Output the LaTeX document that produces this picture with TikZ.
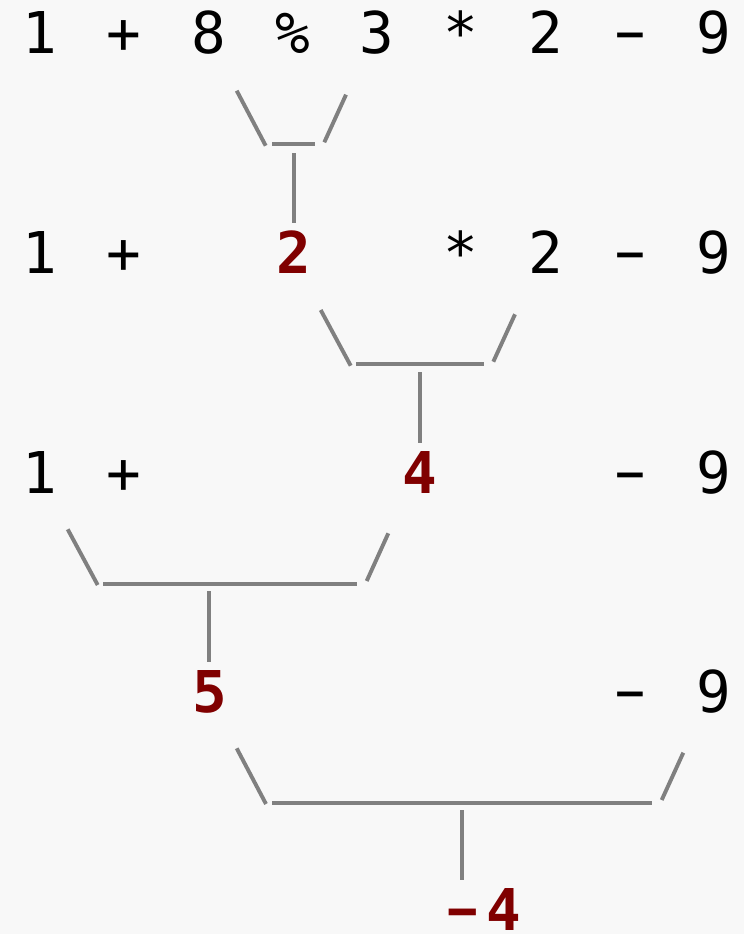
\documentclass[tikz,border=0pt]{standalone}
\usepackage{fontspec}
\newfontfamily\tokfam{DejaVu Sans Mono}
\newfontfamily\resfam{DejaVu Sans Mono Bold}
\definecolor{resred}{HTML}{800000}
\definecolor{brkgray}{HTML}{808080}
\definecolor{bgpaper}{HTML}{F8F8F8}
\newcommand{\tokfont}{\tokfam\fontsize{57.6}{60}\selectfont}
\newcommand{\resfont}{\resfam\fontsize{57.6}{60}\selectfont}
\newcommand{\mminus}{\scalebox{0.86}[1]{−}}
\tikzset{
  tok/.style={anchor=base, inner sep=0pt, font=\tokfont, text=black},
  res/.style={anchor=base, inner sep=0pt, font=\resfont, text=resred},
  brk/.style={draw=brkgray, line width=3.9pt, line cap=butt}
}
\begin{document}
\begin{tikzpicture}[x=1pt,y=-1pt]
\fill[bgpaper] (0,0) rectangle (744,934);
\useasboundingbox (0,0) rectangle (744,934);
% row 1
\node[tok] (a1) at (40,53.3) {1};
\node[tok] (a2) at (124.25,53.3) {+};
\node[tok] (a3) at (208.5,53.3) {8};
\node[tok] (a4) at (292.75,53.3) {\%};
\node[tok] (a5) at (377,53.3) {3};
\node[tok] (a6) at (461.25,53.3) {*};
\node[tok] (a7) at (545.5,53.3) {2};
\node[tok] (a8) at (630.5,53.3) {\mminus};
\node[tok] (a9) at (714,53.3) {9};
% row 2
\node[tok] (b1) at (40,273.3) {1};
\node[tok] (b2) at (124.25,273.3) {+};
\node[res] (b3) at (293.5,273.3) {2};
\node[tok] (b6) at (461.25,273.3) {*};
\node[tok] (b7) at (545.5,273.3) {2};
\node[tok] (b8) at (630.5,273.3) {\mminus};
\node[tok] (b9) at (714,273.3) {9};
% row 3
\node[tok] (c1) at (40,493) {1};
\node[tok] (c2) at (124.25,493) {+};
\node[res] (c4) at (420,493) {4};
\node[tok] (c8) at (630.5,493) {\mminus};
\node[tok] (c9) at (714,493) {9};
% row 4
\node[res] (d3) at (209.5,712) {5};
\node[tok] (d8) at (630.5,712) {\mminus};
\node[tok] (d9) at (714,712) {9};
% row 5
\node[res] (e1) at (462.5,930.5) {\scalebox{0.88}[1]{−}};
\node[res] (e2) at (504.3,930.5) {4};
% bracket 1
\coordinate (p1a) at (236.7,90.7);  \coordinate (p1b) at (265.7,145.7);
\coordinate (q1a) at (272.3,144.3); \coordinate (q1b) at (315,144.3);
\coordinate (r1a) at (346,94.7);    \coordinate (r1b) at (324.3,142.3);
\coordinate (s1a) at (294.3,153.3); \coordinate (s1b) at (294.3,223.3);
\draw[brk] (p1a) -- (p1b);
\draw[brk] (q1a) -- (q1b);
\draw[brk] (r1a) -- (r1b);
\draw[brk] (s1a) -- (s1b);
% bracket 2
\coordinate (p2a) at (320.7,310);   \coordinate (p2b) at (350.7,365.7);
\coordinate (q2a) at (356,364.3);   \coordinate (q2b) at (484,364.3);
\coordinate (r2a) at (515,314.3);   \coordinate (r2b) at (493.3,361.7);
\coordinate (s2a) at (420,372.3);   \coordinate (s2b) at (420,442.7);
\draw[brk] (p2a) -- (p2b);
\draw[brk] (q2a) -- (q2b);
\draw[brk] (r2a) -- (r2b);
\draw[brk] (s2a) -- (s2b);
% bracket 3
\coordinate (p3a) at (67.7,529.3);  \coordinate (p3b) at (97.7,585);
\coordinate (q3a) at (103,583.7);   \coordinate (q3b) at (356.7,583.7);
\coordinate (r3a) at (388.3,533.3); \coordinate (r3b) at (366.7,581);
\coordinate (s3a) at (208.7,591);   \coordinate (s3b) at (208.7,661.7);
\draw[brk] (p3a) -- (p3b);
\draw[brk] (q3a) -- (q3b);
\draw[brk] (r3a) -- (r3b);
\draw[brk] (s3a) -- (s3b);
% bracket 4
\coordinate (p4a) at (236.7,748.3); \coordinate (p4b) at (266,804);
\coordinate (q4a) at (272.3,802.7); \coordinate (q4b) at (651.7,802.7);
\coordinate (r4a) at (683.3,752.7); \coordinate (r4b) at (661.7,800);
\coordinate (s4a) at (461.7,810);   \coordinate (s4b) at (461.7,880);
\draw[brk] (p4a) -- (p4b);
\draw[brk] (q4a) -- (q4b);
\draw[brk] (r4a) -- (r4b);
\draw[brk] (s4a) -- (s4b);
\end{tikzpicture}
\end{document}
